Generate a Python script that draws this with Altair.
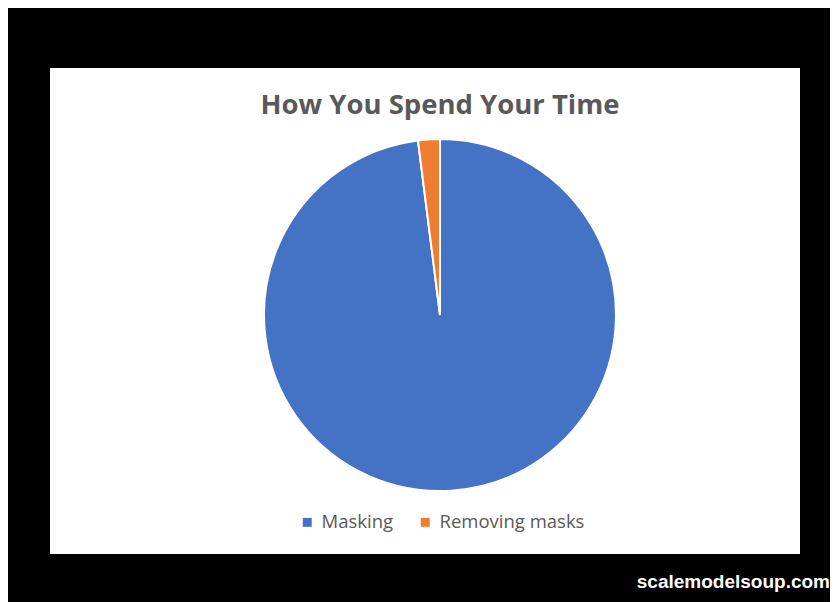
import altair as alt
import pandas as pd

categories = ["Masking", "Removing masks"]
shares = [98, 2]
colors = ["#4472C4", "#ED7D31"]
watermark = ["scalemodelsoup.com"]

df = pd.DataFrame({"activity": categories, "share": shares, "order": [0, 1]})
wm = pd.DataFrame({"label": watermark})

pie = alt.Chart(df).mark_arc(outerRadius=176, stroke="white", strokeWidth=2).encode(
    theta=alt.Theta("share:Q", stack=True),
    order=alt.Order("order:Q"),
    color=alt.Color(
        "activity:N",
        scale=alt.Scale(domain=categories, range=colors),
        legend=alt.Legend(
            title=None,
            orient="none",
            direction="horizontal",
            legendX=248,
            legendY=445,
            symbolType="square",
            symbolSize=80,
            symbolStrokeWidth=0,
            labelFont="Open Sans",
            labelFontSize=18.5,
            labelColor="#595959",
            labelOffset=5,
            columnPadding=22,
        ),
    ),
    x=alt.value(390),
    y=alt.value(247),
)

mark_text = alt.Chart(wm).mark_text(
    align="right", baseline="middle", font="Liberation Sans", fontWeight="bold",
    fontSize=19, color="white",
).encode(text="label:N", x=alt.value(780), y=alt.value(514))

chart = alt.layer(pie, mark_text).properties(
    width=750,
    height=486,
    padding={"left": 42, "top": 60, "right": 30, "bottom": 48},
    autosize=alt.AutoSizeParams(type="none"),
    background="black",
    title=alt.TitleParams(
        "How You Spend Your Time",
        font="Open Sans",
        fontSize=27.5,
        fontWeight="bold",
        color="#595959",
        anchor="middle",
        dx=15,
        dy=55,
    ),
).configure_view(fill="white", stroke=None)

chart.save("out.html", embed_options={"renderer": "svg", "actions": False})
